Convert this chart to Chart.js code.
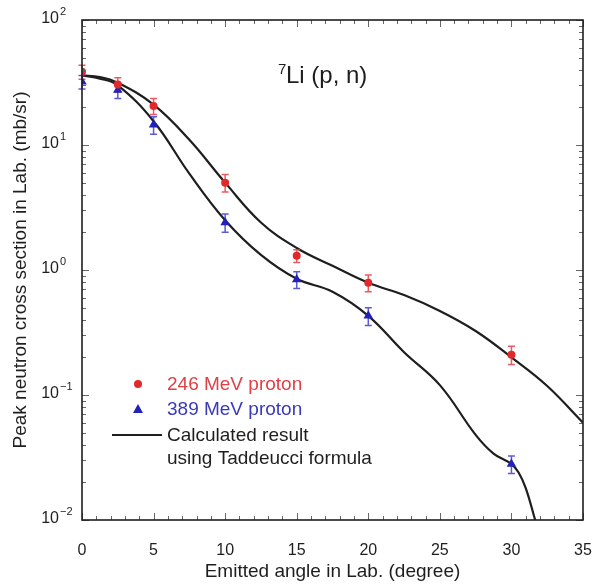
<!DOCTYPE html>
<html>
<head>
<meta charset="utf-8">
<script src="https://cdn.jsdelivr.net/npm/chart.js@4.4.1/dist/chart.umd.min.js"></script>
<style>
  html, body { margin: 0; padding: 0; background: #fff; }
  #wrap { width: 595px; height: 587px; }
</style>
</head>
<body>
<div id="wrap"><canvas id="xsec" width="595" height="587"></canvas></div>
<script>
  "use strict";

  // Measured angles (degree)
  var angles = [0, 2.5, 5, 10, 15, 20, 30];

  // Peak neutron cross sections (mb/sr) with errors
  var xs246 = [38.5, 30.5, 20.5, 5.0, 1.3, 0.79, 0.21];
  var err246 = [5, 4, 3, 0.8, 0.15, 0.12, 0.035];
  var xs389 = [32, 27.5, 14.5, 2.4, 0.84, 0.43, 0.028];
  var err389 = [4, 4, 2.3, 0.4, 0.13, 0.07, 0.0045];

  // Taddeucci formula results
  var calcAngles246 = [0, 1.25, 2.5, 5, 7.5, 10, 12.5, 15, 17.5, 20, 22.5, 25, 27.5, 30, 32.5, 35];
  var calc246 = [36, 35, 31.5, 21, 11, 5.0, 2.4, 1.5, 1.08, 0.79, 0.63, 0.47, 0.325, 0.2, 0.118, 0.06];
  var calcAngles389 = [0, 1.25, 2.5, 5, 7.5, 10, 12.5, 15, 17.5, 20, 22.5, 25, 27.5, 28.75, 30, 30.5, 31, 31.66];
  var calc389 = [36, 34, 30, 15.5, 5.9, 2.5, 1.32, 0.85, 0.67, 0.43, 0.22, 0.12, 0.048, 0.034, 0.028, 0.024, 0.018, 0.01];

  // Axis ticks
  var xTicks = [0, 5, 10, 15, 20, 25, 30, 35];
  var yExponents = [-2, -1, 0, 1, 2];

  var RED = '#e3282c';
  var BLUE = '#2222bb';
  var INK = '#1e1e1e';
  var FONT = '"Liberation Sans", Arial, Helvetica, sans-serif';

  function pts(xv, yv) {
    return xv.map(function (x, i) { return { x: x, y: yv[i] }; });
  }

  // Error bars, drawn over the curves and under the markers
  var errorBars = {
    id: 'errorBars',
    beforeDatasetDraw: function (chart, args) {
      if (args.index !== 1) return;
      var ctx = chart.ctx, xs = chart.scales.x, ys = chart.scales.y;
      [[xs246, err246, 'rgba(226,50,55,0.8)'], [xs389, err389, 'rgba(50,50,200,0.8)']].forEach(function (s) {
        ctx.save();
        ctx.strokeStyle = s[2];
        ctx.lineWidth = 1.5;
        angles.forEach(function (a, i) {
          var px = xs.getPixelForValue(a);
          var hi = ys.getPixelForValue(s[0][i] + s[1][i]);
          var lo = ys.getPixelForValue(s[0][i] - s[1][i]);
          ctx.beginPath();
          ctx.moveTo(px, hi); ctx.lineTo(px, lo);
          ctx.moveTo(px - 3.5, hi); ctx.lineTo(px + 3.5, hi);
          ctx.moveTo(px - 3.5, lo); ctx.lineTo(px + 3.5, lo);
          ctx.stroke();
        });
        ctx.restore();
      });
    }
  };

  // Frame, inward ticks, y labels with exponents, label and key
  var decorations = {
    id: 'decorations',
    afterDraw: function (chart) {
      var ctx = chart.ctx, a = chart.chartArea;
      var xs = chart.scales.x, ys = chart.scales.y;
      ctx.save();

      // ticks on all four sides
      ctx.strokeStyle = '#666';
      ctx.lineWidth = 1;
      ctx.beginPath();
      for (var d = 0; d <= 35; d++) {
        var px = Math.round(xs.getPixelForValue(d)) + 0.5;
        var len = d % 5 === 0 ? 7 : 4;
        ctx.moveTo(px, a.bottom); ctx.lineTo(px, a.bottom - len);
        ctx.moveTo(px, a.top); ctx.lineTo(px, a.top + len);
      }
      yExponents.forEach(function (e) {
        for (var m = 1; m <= 9; m++) {
          if (e === 2 && m > 1) break;
          var py = Math.round(ys.getPixelForValue(m * Math.pow(10, e))) + 0.5;
          var l = m === 1 ? 7 : 4;
          ctx.moveTo(a.left, py); ctx.lineTo(a.left + l, py);
          ctx.moveTo(a.right, py); ctx.lineTo(a.right - l, py);
        }
      });
      ctx.stroke();

      // frame
      ctx.strokeStyle = INK;
      ctx.lineWidth = 1.6;
      ctx.strokeRect(a.left, a.top, a.right - a.left, a.bottom - a.top);

      // y tick labels: 10^n
      ctx.fillStyle = INK;
      yExponents.forEach(function (e) {
        var py = ys.getPixelForValue(Math.pow(10, e));
        ctx.font = '16px ' + FONT;
        ctx.textAlign = 'right';
        ctx.textBaseline = 'middle';
        ctx.fillText('10', 59, py - 1);
        ctx.font = '11px ' + FONT;
        ctx.textAlign = 'left';
        ctx.fillText(e < 0 ? '\u2212' + (-e) : String(e), 60, py - 8);
      });

      // reaction label
      ctx.textBaseline = 'alphabetic';
      ctx.textAlign = 'left';
      ctx.font = '15px ' + FONT;
      ctx.fillText('7', 278, 74);
      ctx.font = '24px ' + FONT;
      ctx.fillText('Li (p, n)', 286, 83);

      // key
      ctx.textBaseline = 'middle';
      ctx.font = '19px ' + FONT;
      ctx.fillStyle = RED;
      ctx.beginPath(); ctx.arc(138, 384, 4, 0, Math.PI * 2); ctx.fill();
      ctx.fillStyle = '#e04046';
      ctx.fillText('246 MeV proton', 167, 385);

      ctx.fillStyle = BLUE;
      ctx.beginPath();
      ctx.moveTo(138, 404); ctx.lineTo(143, 413); ctx.lineTo(133, 413); ctx.closePath();
      ctx.fill();
      ctx.fillStyle = '#3a3ab8';
      ctx.fillText('389 MeV proton', 167, 410);

      ctx.strokeStyle = INK;
      ctx.lineWidth = 2;
      ctx.beginPath(); ctx.moveTo(112, 435); ctx.lineTo(162, 435); ctx.stroke();
      ctx.fillStyle = INK;
      ctx.fillText('Calculated result', 167, 436);
      ctx.fillText('using Taddeucci formula', 167, 459);

      ctx.restore();
    }
  };

  new Chart(document.getElementById('xsec').getContext('2d'), {
    type: 'line',
    data: {
      datasets: [
        {
          label: '246 MeV proton',
          data: pts(angles, xs246),
          showLine: false,
          pointStyle: 'circle',
          pointRadius: 4,
          backgroundColor: RED,
          borderColor: RED,
          borderWidth: 0
        },
        {
          label: '389 MeV proton',
          data: pts(angles, xs389),
          showLine: false,
          pointStyle: 'triangle',
          pointRadius: 5.5,
          backgroundColor: BLUE,
          borderColor: BLUE,
          borderWidth: 0
        },
        {
          label: 'Calculated 246 MeV',
          data: pts(calcAngles246, calc246),
          borderColor: INK,
          borderWidth: 2.2,
          pointRadius: 0,
          tension: 0.4
        },
        {
          label: 'Calculated 389 MeV',
          data: pts(calcAngles389, calc389),
          borderColor: INK,
          borderWidth: 2.2,
          pointRadius: 0,
          tension: 0.4
        }
      ]
    },
    options: {
      responsive: false,
      animation: false,
      layout: { padding: { top: 20, right: 12, left: 0, bottom: 0 } },
      plugins: {
        legend: { display: false },
        tooltip: { enabled: false }
      },
      scales: {
        x: {
          type: 'linear',
          min: 0,
          max: 35,
          afterFit: function (scale) {
            scale.height = 67;
            // edge labels sit in the margins, no extra inset
            scale.paddingLeft = 0;
            scale.paddingRight = 0;
          },
          afterBuildTicks: function (scale) {
            scale.ticks = xTicks.map(function (v) { return { value: v }; });
          },
          grid: { display: false },
          border: { display: false },
          ticks: { color: INK, padding: 13, maxRotation: 0, font: { size: 16, family: FONT } },
          title: {
            display: true,
            text: 'Emitted angle in Lab. (degree)',
            color: INK,
            font: { size: 19, family: FONT },
            padding: { top: 0, bottom: 4 }
          }
        },
        y: {
          type: 'logarithmic',
          min: 0.01,
          max: 100,
          afterFit: function (scale) { scale.width = 82; },
          grid: { display: false },
          border: { display: false },
          ticks: { display: false },
          title: {
            display: true,
            text: 'Peak neutron cross section in Lab. (mb/sr)',
            color: INK,
            font: { size: 19, family: FONT },
            padding: { top: 9, bottom: 0 }
          }
        }
      }
    },
    plugins: [errorBars, decorations]
  });
</script>
</body>
</html>
